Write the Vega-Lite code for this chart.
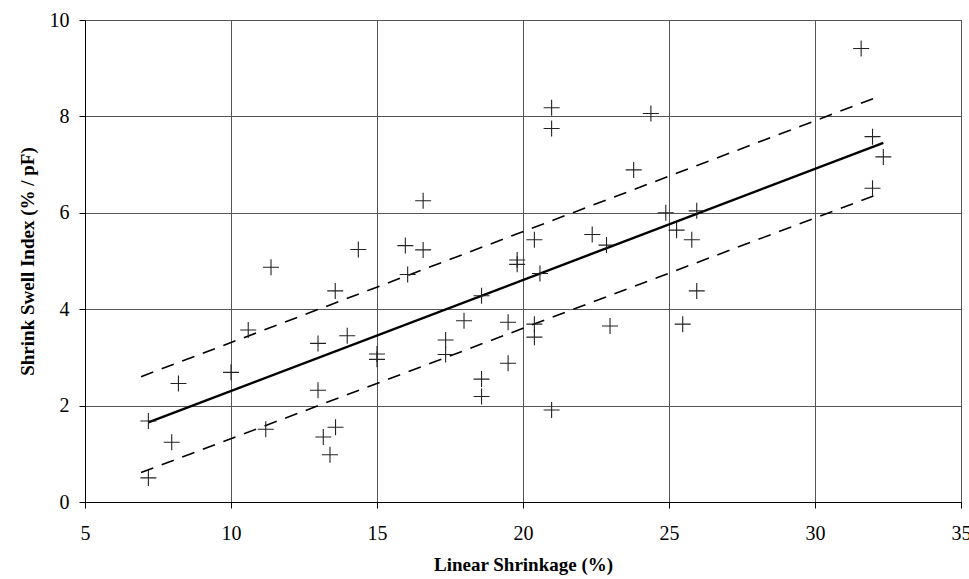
{
  "$schema": "https://vega.github.io/schema/vega-lite/v6.json",
  "width": 876,
  "height": 482,
  "autosize": {"type": "none"},
  "padding": {"left": 85, "top": 20, "right": 8, "bottom": 77},
  "background": "white",
  "config": {
    "view": {"stroke": "black", "strokeWidth": 1},
    "font": "Liberation Serif",
    "axis": {
      "labelFont": "Liberation Serif",
      "labelFontSize": 20,
      "labelColor": "black",
      "titleFont": "Liberation Serif",
      "titleFontSize": 19,
      "titleFontWeight": "bold",
      "titleColor": "black",
      "domainColor": "black",
      "tickColor": "black",
      "tickSize": 6,
      "gridColor": "#555555",
      "gridOpacity": 1,
      "gridWidth": 1
    }
  },
  "datasets": {
    "points": [
      {"shrinkage": 11.37, "ssi": 4.87},
      {"shrinkage": 10.59, "ssi": 3.57},
      {"shrinkage": 10.0, "ssi": 2.69},
      {"shrinkage": 8.2, "ssi": 2.46},
      {"shrinkage": 7.17, "ssi": 1.68},
      {"shrinkage": 7.97, "ssi": 1.24},
      {"shrinkage": 11.19, "ssi": 1.51},
      {"shrinkage": 7.17, "ssi": 0.5},
      {"shrinkage": 16.58, "ssi": 6.25},
      {"shrinkage": 14.36, "ssi": 5.24},
      {"shrinkage": 15.97, "ssi": 5.32},
      {"shrinkage": 16.58, "ssi": 5.23},
      {"shrinkage": 16.05, "ssi": 4.72},
      {"shrinkage": 13.57, "ssi": 4.38},
      {"shrinkage": 19.8, "ssi": 5.02},
      {"shrinkage": 19.8, "ssi": 4.93},
      {"shrinkage": 18.58, "ssi": 4.28},
      {"shrinkage": 17.98, "ssi": 3.76},
      {"shrinkage": 19.49, "ssi": 3.73},
      {"shrinkage": 13.98, "ssi": 3.45},
      {"shrinkage": 12.98, "ssi": 3.29},
      {"shrinkage": 17.35, "ssi": 3.36},
      {"shrinkage": 17.35, "ssi": 3.06},
      {"shrinkage": 15.0, "ssi": 3.07},
      {"shrinkage": 15.0, "ssi": 2.96},
      {"shrinkage": 19.49, "ssi": 2.88},
      {"shrinkage": 18.58, "ssi": 2.55},
      {"shrinkage": 18.58, "ssi": 2.19},
      {"shrinkage": 12.98, "ssi": 2.32},
      {"shrinkage": 13.58, "ssi": 1.55},
      {"shrinkage": 13.16, "ssi": 1.35},
      {"shrinkage": 13.39, "ssi": 0.98},
      {"shrinkage": 20.98, "ssi": 8.18},
      {"shrinkage": 20.98, "ssi": 7.75},
      {"shrinkage": 24.38, "ssi": 8.06},
      {"shrinkage": 23.79, "ssi": 6.89},
      {"shrinkage": 24.89, "ssi": 6.0},
      {"shrinkage": 25.95, "ssi": 6.04},
      {"shrinkage": 25.26, "ssi": 5.64},
      {"shrinkage": 25.78, "ssi": 5.44},
      {"shrinkage": 25.95, "ssi": 4.38},
      {"shrinkage": 25.47, "ssi": 3.69},
      {"shrinkage": 22.37, "ssi": 5.55},
      {"shrinkage": 22.86, "ssi": 5.33},
      {"shrinkage": 20.39, "ssi": 5.44},
      {"shrinkage": 20.58, "ssi": 4.74},
      {"shrinkage": 22.98, "ssi": 3.65},
      {"shrinkage": 20.39, "ssi": 3.69},
      {"shrinkage": 20.39, "ssi": 3.42},
      {"shrinkage": 20.98, "ssi": 1.91},
      {"shrinkage": 31.58, "ssi": 9.41},
      {"shrinkage": 31.97, "ssi": 7.58},
      {"shrinkage": 32.34, "ssi": 7.16},
      {"shrinkage": 31.97, "ssi": 6.51}
    ],
    "lines": [
      {"series": "fit", "shrinkage": 7.17, "ssi": 1.65},
      {"series": "fit", "shrinkage": 32.34, "ssi": 7.45},
      {"series": "upper", "shrinkage": 6.92, "ssi": 2.6},
      {"series": "upper", "shrinkage": 32.0, "ssi": 8.37},
      {"series": "lower", "shrinkage": 6.92, "ssi": 0.61},
      {"series": "lower", "shrinkage": 32.0, "ssi": 6.35}
    ]
  },
  "encoding": {
    "x": {
      "field": "shrinkage",
      "type": "quantitative",
      "scale": {"domain": [5, 35], "nice": false, "zero": false},
      "axis": {"values": [5, 10, 15, 20, 25, 30, 35], "title": "Linear Shrinkage (%)", "labelPadding": 15, "titlePadding": 12, "labelFlush": false}
    },
    "y": {
      "field": "ssi",
      "type": "quantitative",
      "scale": {"domain": [0, 10], "nice": false},
      "axis": {"values": [0, 2, 4, 6, 8, 10], "title": "Shrink Swell Index (% / pF)", "labelPadding": 10, "titlePadding": 12}
    }
  },
  "layer": [
    {
      "data": {"name": "lines"},
      "transform": [{"filter": "datum.series !== 'fit'"}],
      "mark": {"type": "line", "color": "black", "strokeWidth": 1.6, "strokeDash": [13, 9]},
      "encoding": {"detail": {"field": "series"}}
    },
    {
      "data": {"name": "lines"},
      "transform": [{"filter": "datum.series === 'fit'"}],
      "mark": {"type": "line", "color": "black", "strokeWidth": 2.4},
      "encoding": {}
    },
    {
      "data": {"name": "points"},
      "mark": {"type": "point", "shape": "M-1,0H1M0,-1V1", "size": 256, "filled": false, "stroke": "#222222", "strokeWidth": 1.1, "opacity": 1},
      "encoding": {}
    }
  ]
}
